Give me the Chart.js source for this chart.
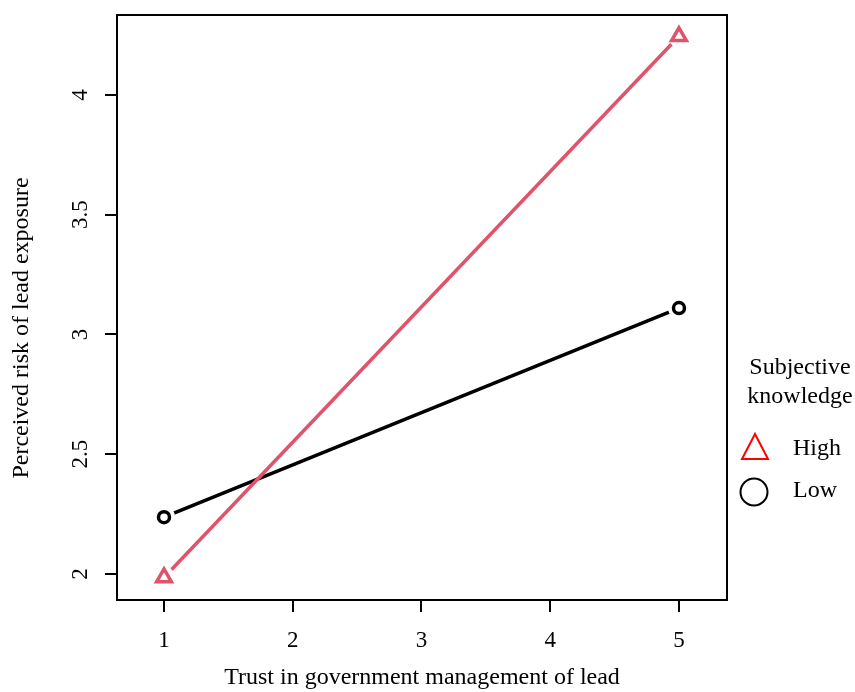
<!DOCTYPE html>
<html>
<head>
<meta charset="utf-8">
<script src="https://cdn.jsdelivr.net/npm/chart.js@4/dist/chart.umd.min.js"></script>
<style>
  html, body { margin: 0; padding: 0; background: #fff; }
  #wrap { width: 855px; height: 692px; }
</style>
</head>
<body>
<div id="wrap"><canvas id="plot" width="855" height="692"></canvas></div>
<script>
  // trust level (x) and predicted risk for each knowledge group
  const trustLevels = [1, 5];
  const highKnowledge = [1.985, 4.245];
  const lowKnowledge = [2.237, 3.11];

  const xTicks = [1, 2, 3, 4, 5];
  const yTicks = [2, 2.5, 3, 3.5, 4];

  const PINK = '#DF536B';
  const FONT = 'Liberation Serif, Times New Roman, serif';

  const toPoints = (ys) => trustLevels.map((x, i) => ({ x: x, y: ys[i] }));

  // R style box + legend + rotated y title
  const rStyle = {
    id: 'rStyle',
    afterDraw(chart) {
      const ctx = chart.ctx;
      const a = chart.chartArea;
      ctx.save();
      ctx.strokeStyle = '#000';
      ctx.lineWidth = 2;
      ctx.strokeRect(a.left, a.top, a.right - a.left, a.bottom - a.top);

      // y title
      ctx.fillStyle = '#000';
      ctx.font = '24px ' + FONT;
      ctx.textAlign = 'center';
      ctx.textBaseline = 'middle';
      ctx.translate(22, 328);
      ctx.rotate(-Math.PI / 2);
      ctx.fillText('Perceived risk of lead exposure', 0, 0);
      ctx.restore();

      // legend
      ctx.save();
      ctx.fillStyle = '#000';
      ctx.font = '24px ' + FONT;
      ctx.textAlign = 'center';
      ctx.textBaseline = 'middle';
      ctx.fillText('Subjective', 800, 368);
      ctx.fillText('knowledge', 800, 397);

      ctx.strokeStyle = '#FF0000';
      ctx.lineWidth = 2;
      ctx.beginPath();
      ctx.moveTo(755, 434);
      ctx.lineTo(742, 459);
      ctx.lineTo(768, 459);
      ctx.closePath();
      ctx.stroke();

      ctx.strokeStyle = '#000';
      ctx.beginPath();
      ctx.arc(754, 492, 13.5, 0, Math.PI * 2);
      ctx.stroke();

      ctx.textAlign = 'left';
      ctx.fillText('High', 793, 449);
      ctx.fillText('Low', 793, 491);
      ctx.restore();
    }
  };

  const ctx = document.getElementById('plot').getContext('2d');
  const chart = new Chart(ctx, {
    type: 'line',
    data: {
      datasets: [
        // lines
        { data: toPoints(highKnowledge), borderColor: PINK, borderWidth: 3.5, pointRadius: 0, order: 3 },
        { data: toPoints(lowKnowledge), borderColor: '#000', borderWidth: 3.5, pointRadius: 0, order: 3 },
        // white gap round each point (type="b")
        { data: toPoints(highKnowledge), showLine: false, pointRadius: 11, pointBackgroundColor: '#fff', pointBorderWidth: 0, order: 2 },
        { data: toPoints(lowKnowledge), showLine: false, pointRadius: 11, pointBackgroundColor: '#fff', pointBorderWidth: 0, order: 2 },
        // markers
        { data: toPoints(highKnowledge), showLine: false, pointStyle: 'triangle', pointRadius: 8.5, pointBorderColor: PINK, pointBackgroundColor: '#fff', pointBorderWidth: 3.5, order: 1 },
        { data: toPoints(lowKnowledge), showLine: false, pointStyle: 'circle', pointRadius: 5.5, pointBorderColor: '#000', pointBackgroundColor: '#fff', pointBorderWidth: 3.5, order: 1 }
      ]
    },
    options: {
      responsive: false,
      animation: false,
      layout: { padding: { left: 0, top: 15, right: 128, bottom: 0 } },
      plugins: { legend: { display: false }, tooltip: { enabled: false } },
      scales: {
        x: {
          type: 'linear',
          min: 0.635,
          max: 5.373,
          afterBuildTicks: (s) => { s.ticks = xTicks.map(v => ({ value: v })); },
          afterFit: (s) => { s.height = 92; s.paddingLeft = 0; s.paddingRight = 0; },
          grid: { drawOnChartArea: false, drawTicks: true, tickLength: 12, color: '#000', lineWidth: 2 },
          border: { display: true, color: '#000', width: 2 },
          ticks: { color: '#000', font: { family: FONT, size: 23 }, padding: 15, maxRotation: 0, callback: (v) => String(v) },
          title: { display: true, text: 'Trust in government management of lead', color: '#000', font: { family: FONT, size: 24 }, padding: 0 }
        },
        y: {
          type: 'linear',
          min: 1.891,
          max: 4.334,
          afterBuildTicks: (s) => { s.ticks = yTicks.map(v => ({ value: v })); },
          afterFit: (s) => { s.width = 117; s.paddingTop = 0; s.paddingBottom = 0; },
          grid: { drawOnChartArea: false, drawTicks: true, tickLength: 12, color: '#000', lineWidth: 2 },
          border: { display: true, color: '#000', width: 2 },
          ticks: { color: '#000', font: { family: FONT, size: 23 }, padding: 10, minRotation: 90, maxRotation: 90, crossAlign: 'center', callback: (v) => String(v) }
        }
      }
    },
    plugins: [rStyle]
  });
</script>
</body>
</html>
